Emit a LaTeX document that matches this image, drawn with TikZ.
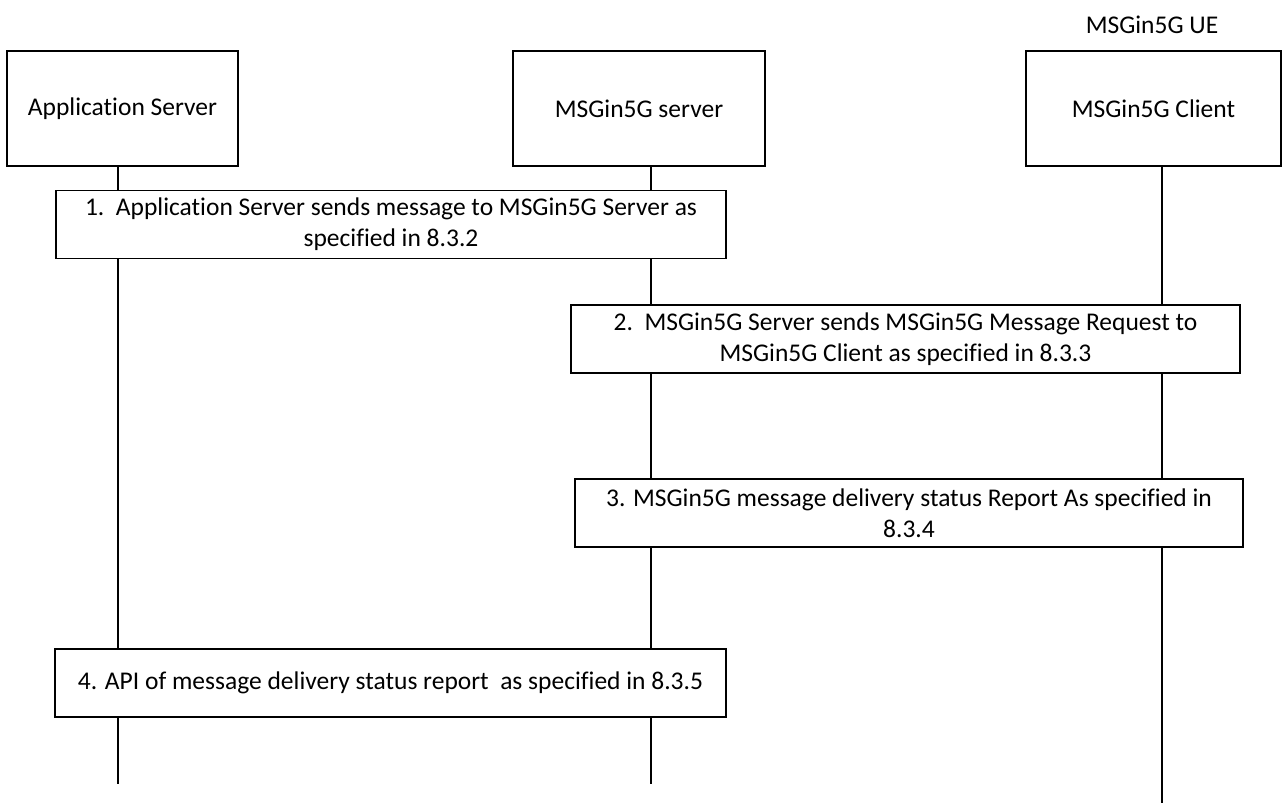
\documentclass[tikz,border=0pt]{standalone}
\usepackage{fontspec}
\setmainfont[Ligatures=NoCommon]{Carlito}
\usepackage{tikz}
\usetikzlibrary{positioning,backgrounds}
\pgfdeclarelayer{background}
\pgfsetlayers{background,main}

\begin{document}
\begin{tikzpicture}[
  x=1pt, y=-1pt,
  every node/.style={font=\fontsize{25.5}{31}\selectfont},
  entity/.style={draw, line width=1.3pt, fill=white, align=center,
    inner sep=0pt, minimum height=115pt},
  stepbox/.style={draw, line width=1.3pt, fill=white, align=center,
    inner sep=0pt, minimum width=669pt, minimum height=68pt},
  life/.style={line width=1.3pt},
]
\useasboundingbox (0,0) rectangle (1282,803);

% ── ENTITIES ── (y=108)
\node[entity, minimum width=231pt] at ( 122.5, 108.5) (AS)  {Application Server};
\node[entity, minimum width=252pt] at ( 639.0, 108.5) (MS)  {MSGin5G server};
\node[entity, minimum width=255pt] at (1153.5, 108.5) (MC)  {MSGin5G Client};
\node at (1152, 25) (UE) {MSGin5G UE};

% lifeline ends
\coordinate (ASend) at ( 118, 784);
\coordinate (MSend) at ( 651, 784);
\coordinate (MCend) at (1162, 803);

% ── STEPS ──
\node[stepbox, minimum width=670pt] at (391.0, 224.5) (S1)
  {1.\ \ Application Server sends message to MSGin5G Server as\\specified in 8.3.2};
\node[stepbox] at (905.5, 339.0) (S2)
  {2.\ \ MSGin5G Server sends MSGin5G Message Request to\\MSGin5G Client as specified in 8.3.3};
\node[stepbox, minimum width=668pt] at (909.0, 513.0) (S3)
  {3. MSGin5G message delivery status Report As specified in\\8.3.4};
\node[stepbox, minimum width=671pt] at (390.5, 683.0) (S4)
  {4. API of message delivery status report\ \ as specified in 8.3.5};

%% ══════════════════ LIFELINES ══════════════════
\begin{pgfonlayer}{background}
\draw[life] (ASend |- AS.south) -- (ASend);
\draw[life] (MSend |- MS.south) -- (MSend);
\draw[life] (MCend |- MC.south) -- (MCend);
\end{pgfonlayer}

\end{tikzpicture}
\end{document}
